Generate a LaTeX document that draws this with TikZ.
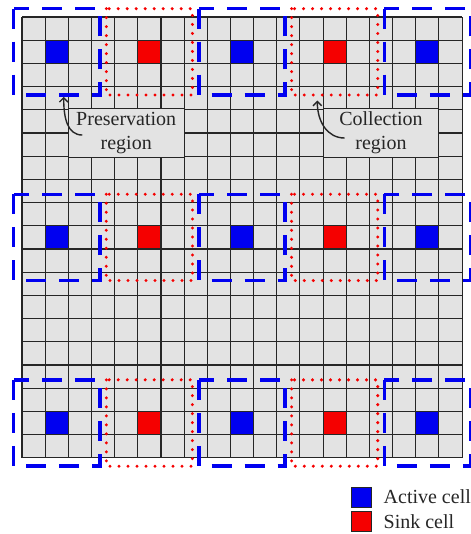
\documentclass[tikz,border=0pt]{standalone}
\usepackage{fontspec}
\setmainfont{Liberation Serif}
\usetikzlibrary{arrows.meta,positioning}
\definecolor{cellgray}{HTML}{E3E3E3}
\definecolor{edge}{HTML}{262626}
\definecolor{ink}{HTML}{262626}
\definecolor{active}{HTML}{0000F0}
\definecolor{sink}{HTML}{F50000}

\begin{document}
\begin{tikzpicture}[x=23.16pt,y=-23.2pt,>=Straight Barb,
    gridline/.style={edge,line width=1.1pt},
    preserve/.style={active,line width=3.4pt,dash pattern=on 20pt off 13pt},
    collect/.style={sink,line width=3.3pt,line cap=round,dash pattern=on 0pt off 9pt},
    labelbox/.style={draw=edge,line width=1.1pt,fill=cellgray,minimum width=115.8pt,
      minimum height=46.4pt,align=center,text=ink,font=\fontsize{20}{24}\selectfont},
    pointer/.style={->,ink,line width=1.4pt},
    legbox/.style={draw=edge,line width=1pt,minimum size=20pt,inner sep=0pt},
    legtext/.style={text=ink,inner sep=0pt,font=\fontsize{20}{24}\selectfont}]
      % half size of the dashed and dotted regions
      \pgfmathsetmacro{\hw}{1.86}

      \useasboundingbox (-0.95,-0.733) rectangle (19.344,22.284);

      % cell grid
      \fill[cellgray] (0,0) rectangle (19,19);
      \foreach \i in {0,...,19} {
        \draw[gridline] (\i,0) -- (\i,19);
        \draw[gridline] (0,\i) -- (19,\i);
      }

      % active and sink cells
      \foreach \r in {1,9,17}
        \foreach \c/\col in {1/active,5/sink,9/active,13/sink,17/active}
          \draw[gridline,fill=\col] (\c,\r) rectangle ++(1,1);

      % labels
      \node[labelbox] (pres) at (4.5,5) {Preservation\\region};
      \node[labelbox] (coll) at (15.5,5) {Collection\\region};

      % regions
      \foreach \r in {1,9,17} {
        \foreach \c in {1,9,17}
          \draw[preserve] (\c+0.5-\hw,\r+0.5-\hw) rectangle (\c+0.5+\hw,\r+0.5+\hw);
        \foreach \c in {5,13}
          \draw[collect] (\c+0.5-\hw,\r+0.5-\hw) rectangle (\c+0.5+\hw,\r+0.5+\hw);
      }

      \coordinate (presTip) at (1.8,3.44);
      \coordinate (collTip) at (12.75,3.6);
      \draw[pointer] ([xshift=14.5pt,yshift=-2pt]pres.west) .. controls +(-0.65,0) and +(0,0.9) .. (presTip);
      \draw[pointer] ([xshift=22pt,yshift=-5pt]coll.west) .. controls +(-0.75,0) and +(0,0.9) .. (collTip);

      % legend
      \node[legbox,fill=active] (actKey) at (14.68,20.69) {};
      \node[legbox,fill=sink] (sinkKey) at (14.68,21.75) {};
      \node[legtext,right=11pt of actKey] (actText) {Active cell};
      \node[legtext,right=11pt of sinkKey] (sinkText) {Sink cell};
    \end{tikzpicture}
\end{document}
